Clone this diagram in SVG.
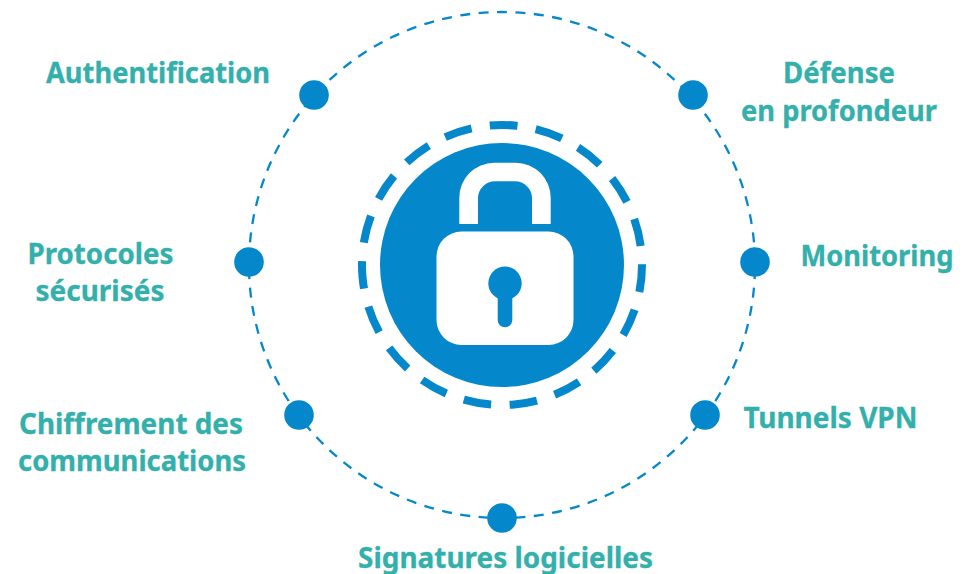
<svg xmlns="http://www.w3.org/2000/svg" width="962" height="574" viewBox="0 0 962 574">
<style>
.t{font-family:"Noto Sans","Open Sans",sans-serif;font-weight:700;font-size:27.7px;fill:#33b0ac;stroke:#33b0ac;stroke-width:.3;text-anchor:middle}
.d{fill:#0588cb}
</style>
<rect width="962" height="574" fill="#fff"/>
<g id="connectors"><circle cx="502" cy="265" r="253" fill="none" stroke="#0588cb" stroke-width="2.3" pathLength="86" stroke-dasharray="0.54 0.46" transform="rotate(-91.13 502 265)"/></g>
<g id="lock">
<circle cx="502" cy="265" r="140" fill="none" stroke="#0588cb" stroke-width="8" pathLength="19" stroke-dasharray="0.6 0.4" transform="rotate(-95 502 265)"/>
<circle cx="502" cy="265" r="122" fill="#0588cb"/>
<path d="M459.300 224V198A35 35 0 0 1 494.300 162.700H515.700A35 35 0 0 1 550.700 198V224H532V198A17 17 0 0 0 515 181.300H495A17 17 0 0 0 478 198V224Z" fill="#fff"/>
<rect x="436.500" y="231.500" width="137" height="113.500" rx="25" fill="#fff"/>
<circle cx="505" cy="283.300" r="16.700" fill="#0588cb"/>
<path d="M497.700 290H512.300V320A7.300 7.300 0 0 1 497.700 320Z" fill="#0588cb"/>
</g>
<g id="n1"><circle class="d" cx="314" cy="95" r="14.800"/><text class="t" x="158" y="82.500" textLength="224" lengthAdjust="spacingAndGlyphs">Authentification</text></g>
<g id="n2"><circle class="d" cx="693" cy="95" r="14.800"/><text class="t" x="839" y="83" textLength="112" lengthAdjust="spacingAndGlyphs">Défense</text><text class="t" x="839" y="120.500" textLength="196" lengthAdjust="spacingAndGlyphs">en profondeur</text></g>
<g id="n3"><circle class="d" cx="755" cy="262" r="14.800"/><text class="t" x="877" y="265.500" textLength="153" lengthAdjust="spacingAndGlyphs">Monitoring</text></g>
<g id="n4"><circle class="d" cx="705" cy="415" r="14.800"/><text class="t" x="830.500" y="427.500" textLength="174" lengthAdjust="spacingAndGlyphs">Tunnels VPN</text></g>
<g id="n5"><circle class="d" cx="502" cy="518" r="14.800"/><text class="t" x="505.500" y="567.500" textLength="295" lengthAdjust="spacingAndGlyphs">Signatures logicielles</text></g>
<g id="n6"><circle class="d" cx="299" cy="415" r="14.800"/><text class="t" x="131" y="433.500" textLength="224" lengthAdjust="spacingAndGlyphs">Chiffrement des</text><text class="t" x="132" y="470.500" textLength="228" lengthAdjust="spacingAndGlyphs">communications</text></g>
<g id="n7"><circle class="d" cx="249" cy="262" r="14.800"/><text class="t" x="100.500" y="263.500" textLength="146" lengthAdjust="spacingAndGlyphs">Protocoles</text><text class="t" x="100" y="300.500" textLength="129" lengthAdjust="spacingAndGlyphs">sécurisés</text></g>
</svg>
